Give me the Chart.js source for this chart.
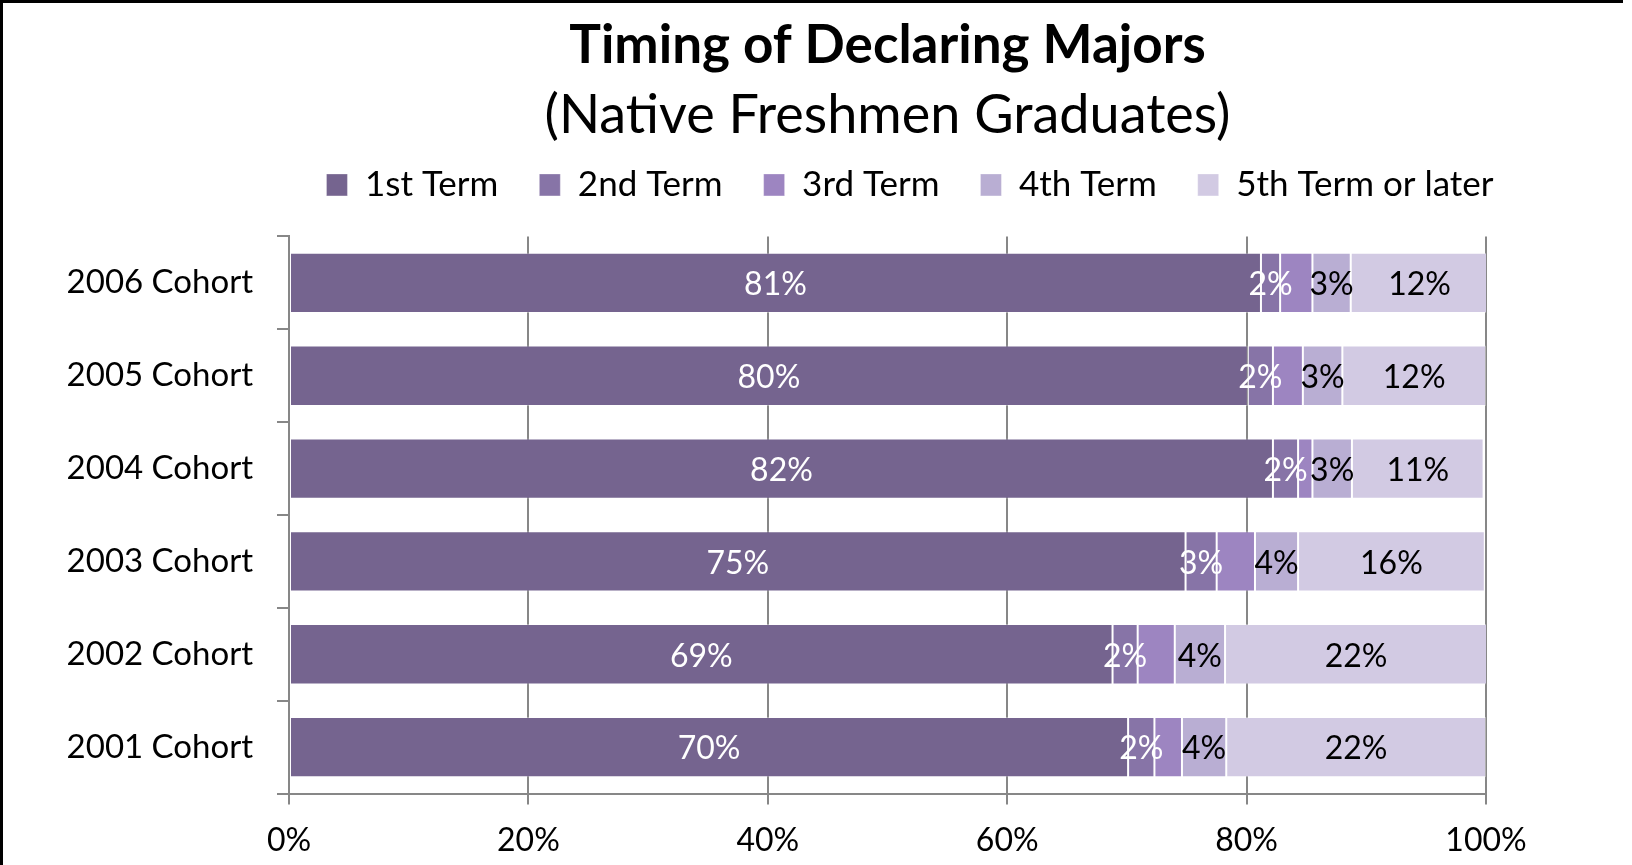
<!DOCTYPE html>
<html>
<head>
<meta charset="utf-8">
<script src="https://cdn.jsdelivr.net/npm/chart.js@4/dist/chart.umd.min.js"></script>
<style>
  html, body { margin: 0; padding: 0; background: #fff; }
  #wrap { position: relative; width: 1632px; height: 865px; overflow: hidden; }
  #frame { position: absolute; left: 0; top: 0; width: 1623px; height: 900px;
           border-top: 3px solid #000; border-left: 3px solid #000; box-sizing: border-box; pointer-events: none; }
</style>
</head>
<body>
<div id="wrap">
  <canvas id="chart" width="1632" height="865"></canvas>
  <div id="frame"></div>
</div>
<script>
const cohorts = ['2006 Cohort', '2005 Cohort', '2004 Cohort', '2003 Cohort', '2002 Cohort', '2001 Cohort'];
const seriesNames = ['1st Term', '2nd Term', '3rd Term', '4th Term', '5th Term or later'];

// percent of graduates, per cohort (top to bottom)
const term1 = [81.2, 80.1, 82.2, 74.9, 68.8, 70.1];
const term2 = [1.6, 2.1, 2.1, 2.6, 2.1, 2.2];
const term3 = [2.7, 2.5, 1.2, 3.2, 3.1, 2.3];
const term4 = [3.2, 3.3, 3.3, 3.6, 4.2, 3.7];
const term5 = [11.5, 12.0, 11.0, 15.6, 21.9, 21.7];

const xTicks = [0, 20, 40, 60, 80, 100];

const colors = ['#75648f', '#8774a7', '#9d85c1', '#b9aed3', '#d2cae3'];
const labelColors = ['#ffffff', '#ffffff', null, '#000000', '#000000'];

const font = 'Lato';
const gray = '#878787';

const barLabels = {
  id: 'barLabels',
  afterDatasetsDraw(chart) {
    const ctx = chart.ctx;
    ctx.save();
    ctx.font = '32px ' + font;
    ctx.textAlign = 'center';
    ctx.textBaseline = 'middle';
    chart.data.datasets.forEach((ds, i) => {
      if (!labelColors[i]) return;
      const meta = chart.getDatasetMeta(i);
      ctx.fillStyle = labelColors[i];
      meta.data.forEach((bar, j) => {
        const x = (bar.x + bar.base) / 2;
        ctx.fillText(Math.round(ds.data[j]) + '%', x, bar.y + 2);
      });
    });
    ctx.restore();
  }
};

const allSeries = [term1, term2, term3, term4, term5];

new Chart(document.getElementById('chart').getContext('2d'), {
  type: 'bar',
  data: {
    labels: cohorts,
    datasets: allSeries.map((vals, i) => ({
      label: seriesNames[i],
      data: vals,
      backgroundColor: colors[i],
      borderColor: 'rgba(255,255,255,0.35)',
      borderWidth: 1,
      borderSkipped: false,
      categoryPercentage: 1,
      barPercentage: 0.65
    }))
  },
  options: {
    indexAxis: 'y',
    responsive: false,
    animation: false,
    // negative right padding moves the full-width legend box so its row sits where the original has it
    layout: { padding: { left: 0, right: -188, top: 0, bottom: -12 } },
    plugins: {
      title: {
        display: true,
        fullSize: false,
        text: 'Timing of Declaring Majors',
        color: '#000',
        font: { family: font, size: 53, weight: 'bold' },
        padding: { top: 14, bottom: 0 }
      },
      subtitle: {
        display: true,
        fullSize: false,
        text: '(Native Freshmen Graduates)',
        color: '#000',
        font: { family: font, size: 54 },
        padding: { top: 6, bottom: -22 }
      },
      legend: {
        position: 'top',
        align: 'center',
        fullSize: true,
        labels: {
          color: '#000',
          font: { family: font, size: 35 },
          boxWidth: 21,
          boxHeight: 22,
          padding: 41
        }
      },
      tooltip: { enabled: false }
    },
    scales: {
      x: {
        stacked: true,
        min: 0,
        max: 100,
        afterBuildTicks: s => { s.ticks = xTicks.map(v => ({ value: v })); },
        ticks: {
          color: '#000',
          font: { family: font, size: 32 },
          padding: 17,
          callback: v => v + '%'
        },
        grid: { color: gray, lineWidth: 2, tickLength: 11 },
        border: { color: gray, width: 2 }
      },
      x2: {
        position: 'top',
        display: true,
        ticks: { display: false },
        grid: { display: false },
        border: { display: false },
        afterFit: s => { s.height = 24; }
      },
      y: {
        stacked: true,
        ticks: {
          color: '#000',
          font: { family: font, size: 33 },
          padding: 24
        },
        grid: { drawOnChartArea: false, color: gray, lineWidth: 2, tickLength: 12, offset: true },
        border: { color: gray, width: 2 },
        afterFit: s => { s.width = 289; }
      },
      y2: {
        position: 'right',
        display: true,
        ticks: { display: false },
        grid: { display: false },
        border: { display: false },
        afterFit: s => { s.width = 334; }
      }
    }
  },
  plugins: [barLabels]
});
</script>
</body>
</html>
